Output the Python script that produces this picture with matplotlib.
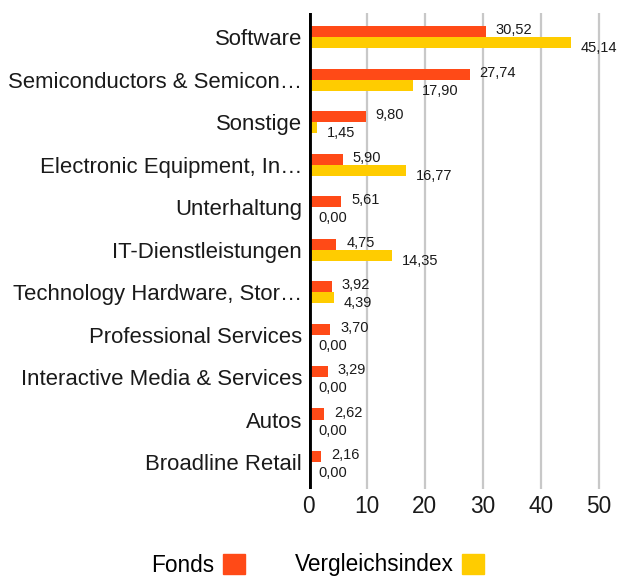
import matplotlib.pyplot as plt
from matplotlib.patches import Patch
import numpy as np

plt.rcParams['font.family'] = ['Liberation Sans', 'DejaVu Sans']

# Data
categories = ["Software", "Semiconductors & Semicon…", "Sonstige",
              "Electronic Equipment, In…", "Unterhaltung", "IT-Dienstleistungen",
              "Technology Hardware, Stor…", "Professional Services",
              "Interactive Media & Services", "Autos", "Broadline Retail"]
fonds = [30.52, 27.74, 9.80, 5.90, 5.61, 4.75, 3.92, 3.70, 3.29, 2.62, 2.16]
index = [45.14, 17.90, 1.45, 16.77, 0.00, 14.35, 4.39, 0.00, 0.00, 0.00, 0.00]
series_names = ["Fonds", "Vergleichsindex"]

c_fonds = '#ff4a17'
c_index = '#ffcc00'

fig = plt.figure(figsize=(6.19, 5.79), dpi=100)
ax = fig.add_axes([0.499, 0.1554, 0.487, 0.822])

y = np.arange(len(categories))
h = 0.26
ax.barh(y - h / 2, fonds, height=h, color=c_fonds, zorder=3)
ax.barh(y + h / 2, index, height=h, color=c_index, zorder=3)

def fmt(v):
    return f"{v:.2f}".replace('.', ',')

for yi, v in zip(y, fonds):
    ax.annotate(fmt(v), (v, yi - h / 2), xytext=(7, 1), textcoords='offset points',
                ha='left', va='center', fontsize=10.5, color='#1a1a1a')
for yi, v in zip(y, index):
    ax.annotate(fmt(v), (v, yi + h / 2), xytext=(7, -4), textcoords='offset points',
                ha='left', va='center', fontsize=10.5, color='#1a1a1a')

ax.set_xlim(0, 52)
ax.set_ylim(len(categories) - 1 + 0.635, -0.565)
ax.set_xticks([0, 10, 20, 30, 40, 50])
ax.set_yticks(y)
ax.set_yticklabels(categories)
ax.tick_params(axis='y', length=0, pad=5, labelsize=15.9, colors='#1a1a1a')
ax.tick_params(axis='x', length=0, pad=4, labelsize=16.3, colors='#1a1a1a')
for s in ax.spines.values():
    s.set_visible(False)
ax.grid(axis='x', color='#c8c8c8', lw=1.6, zorder=0)
ax.axvline(0, color='black', lw=3.5, zorder=4)

handles = [Patch(color=c_fonds), Patch(color=c_index)]
fig.legend(handles, series_names, loc='center', bbox_to_anchor=(318 / 619, 1 - 565 / 579),
           ncol=2, markerfirst=False, frameon=False, fontsize=16.3,
           handlelength=1.0, handleheight=1.0, handletextpad=0.35, columnspacing=2.2)

fig.savefig('out.png', dpi=100)
